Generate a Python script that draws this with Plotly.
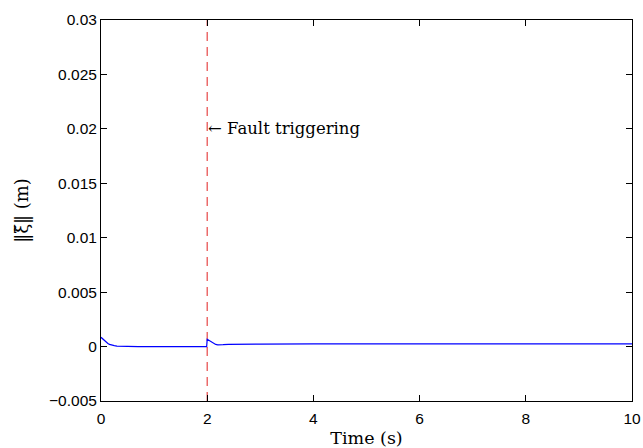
import plotly.graph_objects as go

# Data
time_s = [0, 0.02, 0.04, 0.06, 0.08, 0.1, 0.13, 0.16, 0.2, 0.25, 0.3, 0.4, 0.5,
          0.7, 1.0, 1.5, 1.99,
          2.0, 2.01, 2.03, 2.05, 2.08, 2.1, 2.13, 2.16, 2.2, 2.25, 2.3, 2.4,
          2.6, 3, 4, 6, 8, 10]
xi_norm = [0.00085, 0.00075, 0.00064, 0.00054, 0.00045, 0.00037, 0.00028, 0.0002,
           0.00013, 0.00008, 0.00005, 0.00002, 0.00001, 0.0, 0.0, 0.0, 0.0,
           0.00067, 0.00064, 0.00057, 0.0005, 0.0004, 0.00034, 0.00026, 0.0002,
           0.00016, 0.00015, 0.00017, 0.0002, 0.00022, 0.00023, 0.00024, 0.00024,
           0.00025, 0.00025]
fault_time = [2, 2]
fault_y = [-0.005, 0.03]
x_ticks = [0, 2, 4, 6, 8, 10]
y_ticks = [-0.005, 0, 0.005, 0.01, 0.015, 0.02, 0.025, 0.03]
y_tick_text = ["\u22120.005", "0", "0.005", "0.01", "0.015", "0.02", "0.025", "0.03"]
annot_text = "\u2190 Fault triggering"
annot_pos = (2, 0.02)

serif = "DejaVu Serif, Liberation Serif, serif"
sans = "Liberation Sans, Arial, sans-serif"

fig = go.Figure()
fig.add_trace(go.Scatter(x=fault_time, y=fault_y, mode="lines",
                         line=dict(color="rgb(230,70,70)", width=1.2, dash="9px,6px"),
                         showlegend=False, hoverinfo="skip"))
fig.add_trace(go.Scatter(x=time_s, y=xi_norm, mode="lines",
                         line=dict(color="#0000ff", width=1.2),
                         showlegend=False))

fig.add_annotation(x=annot_pos[0], y=annot_pos[1], text=annot_text, showarrow=False,
                   xanchor="left", yanchor="middle", xshift=-1,
                   font=dict(family=serif, size=16.5, color="black"))

axis_common = dict(showline=True, linecolor="black", linewidth=1, mirror="ticks",
                   ticks="inside", ticklen=6, tickcolor="black", showgrid=False,
                   zeroline=False, automargin=False,
                   tickfont=dict(family=sans, size=15.5, color="black"))

fig.update_xaxes(range=[0, 10], tickvals=x_ticks, ticklabelstandoff=3,
                 title=dict(text="Time (s)", standoff=7,
                            font=dict(family=serif, size=17.5, color="black")),
                 **axis_common)
fig.update_yaxes(range=[-0.005, 0.03], tickvals=y_ticks, ticktext=y_tick_text,
                 title=dict(text="\u2016\u03be\u0303\u2016 (m)", standoff=15,
                            font=dict(family=serif, size=18, color="black")),
                 **axis_common)

fig.update_layout(width=643, height=448, margin=dict(l=101, r=11, t=20, b=47),
                  plot_bgcolor="white", paper_bgcolor="white")

fig.write_html("out.html", config={"displayModeBar": False},
               post_script="document.body.style.margin='0';document.body.style.overflow='hidden';")
